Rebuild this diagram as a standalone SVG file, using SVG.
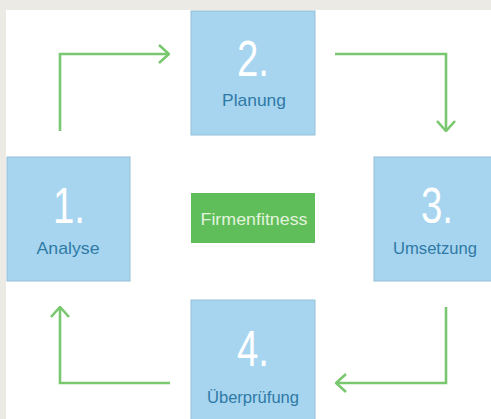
<svg xmlns="http://www.w3.org/2000/svg" width="491" height="419" viewBox="0 0 491 419">
<defs>
<style>
.box{fill:#a7d5ef;stroke:#94bfd6;stroke-width:1}
.num{font-family:"Liberation Sans",Arial,sans-serif;font-size:50px;fill:#ffffff;text-anchor:middle;font-weight:300}
.lbl{font-family:"Liberation Sans",Arial,sans-serif;font-size:17px;fill:#2f7aa6;text-anchor:middle}
.ctr{font-family:"Liberation Sans",Arial,sans-serif;font-size:17px;fill:#e2f3de;text-anchor:middle}
.con{fill:none;stroke:#79c76f;stroke-width:2.6;stroke-linejoin:miter}
</style>
<marker id="ah" viewBox="0 0 12 20" refX="11" refY="10" markerWidth="12" markerHeight="20" markerUnits="userSpaceOnUse" orient="auto">
<path d="M1,1 L11,10 L1,19" fill="none" stroke="#79c76f" stroke-width="2.6"/>
</marker>
</defs>
<rect x="0" y="0" width="491" height="419" fill="#eceae5"/>
<rect x="6" y="10" width="485" height="409" fill="#ffffff"/>
<g id="connectors">
<path class="con" d="M60,131 V54 H169" marker-end="url(#ah)"/>
<path class="con" d="M335,54 H446 V131" marker-end="url(#ah)"/>
<path class="con" d="M446,307 V383 H336" marker-end="url(#ah)"/>
<path class="con" d="M170,383 H60 V307" marker-end="url(#ah)"/>
</g>
<g id="node1">
<rect class="box" x="7" y="157" width="123" height="124"/>
<text class="num" x="69" y="223" textLength="32" lengthAdjust="spacingAndGlyphs">1.</text>
<text class="lbl" x="68" y="254" textLength="63" lengthAdjust="spacingAndGlyphs">Analyse</text>
</g>
<g id="node2">
<rect class="box" x="191" y="11" width="124" height="124"/>
<text class="num" x="253" y="76" textLength="32" lengthAdjust="spacingAndGlyphs">2.</text>
<text class="lbl" x="254" y="106" textLength="64" lengthAdjust="spacingAndGlyphs">Planung</text>
</g>
<g id="node3">
<rect class="box" x="374" y="157" width="124" height="124"/>
<text class="num" x="437" y="223" textLength="32" lengthAdjust="spacingAndGlyphs">3.</text>
<text class="lbl" x="435" y="254" textLength="84" lengthAdjust="spacingAndGlyphs">Umsetzung</text>
</g>
<g id="node4">
<rect class="box" x="191" y="300" width="124" height="124"/>
<text class="num" x="253" y="366" textLength="32" lengthAdjust="spacingAndGlyphs">4.</text>
<text class="lbl" x="253" y="403" textLength="92" lengthAdjust="spacingAndGlyphs">Überprüfung</text>
</g>
<g id="center">
<rect x="191" y="193" width="124" height="50" fill="#60be5a"/>
<text class="ctr" x="254" y="225" textLength="107" lengthAdjust="spacingAndGlyphs">Firmenfitness</text>
</g>
</svg>
